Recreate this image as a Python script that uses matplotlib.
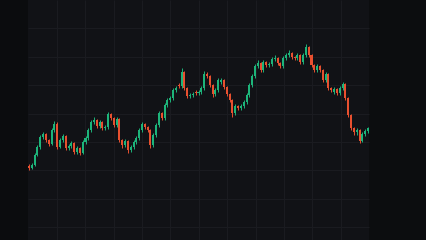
import matplotlib
matplotlib.use("Agg")
import matplotlib.pyplot as plt
import numpy as np

# OHLC values (price units)
opens = [74, 72, 75, 85, 93, 103, 106, 100, 96, 110,
         116, 93, 100, 104, 92, 94, 97, 88, 92, 87,
         98, 102, 110, 118, 120, 114, 118, 112, 113, 126,
         122, 115, 121, 100, 95, 99, 90, 93, 98, 102,
         110, 116, 113, 110, 95, 105, 115, 127, 122, 135,
         140, 142, 150, 155, 154, 168, 152, 144, 145, 148,
         147, 148, 152, 166, 164, 155, 146, 150, 158, 160,
         153, 146, 140, 127, 134, 132, 134, 138, 145, 155,
         164, 174, 177, 170, 178, 175, 176, 181, 182, 177,
         174, 182, 185, 187, 183, 182, 185, 178, 185, 193,
         185, 175, 170, 174, 170, 160, 166, 152, 148, 151,
         147, 152, 156, 142, 125, 112, 108, 110, 99, 106,
         109]
closes = [72, 75, 85, 93, 103, 106, 100, 96, 110, 116,
          93, 100, 104, 92, 94, 97, 88, 92, 87, 98,
          102, 110, 118, 120, 114, 118, 112, 113, 126, 122,
          115, 121, 100, 95, 99, 90, 93, 98, 102, 110,
          116, 113, 110, 95, 105, 115, 127, 122, 135, 140,
          142, 150, 152, 154, 168, 152, 144, 145, 146, 147,
          148, 152, 166, 164, 155, 146, 150, 160, 160, 153,
          146, 140, 127, 134, 132, 134, 138, 145, 155, 164,
          174, 177, 170, 178, 175, 176, 181, 182, 177, 174,
          182, 185, 187, 183, 182, 185, 178, 185, 193, 185,
          175, 170, 174, 170, 160, 166, 152, 150, 151, 147,
          152, 156, 142, 125, 112, 108, 110, 99, 106, 109,
          112]
highs = [76, 77, 87, 95, 105, 108, 107, 101, 112, 119,
         118, 102, 106, 105, 96, 99, 98, 94, 93, 100,
         104, 112, 120, 123, 121, 120, 119, 115, 128, 127,
         123, 123, 122, 101, 101, 100, 95, 100, 104, 112,
         118, 117, 114, 111, 107, 117, 129, 128, 137, 142,
         144, 152, 154, 157, 172, 169, 153, 147, 148, 150,
         150, 154, 169, 168, 165, 156, 152, 162, 162, 161,
         154, 147, 141, 136, 135, 136, 140, 147, 157, 166,
         176, 180, 178, 180, 179, 178, 183, 185, 183, 178,
         184, 187, 190, 188, 184, 187, 186, 187, 196, 194,
         186, 176, 176, 175, 171, 168, 167, 153, 153, 152,
         154, 158, 157, 143, 126, 113, 112, 111, 108, 111,
         113]
lows = [70, 71, 74, 84, 91, 101, 98, 94, 95, 108,
        91, 92, 98, 90, 90, 92, 86, 86, 85, 86,
        96, 100, 108, 116, 112, 112, 110, 110, 111, 120,
        113, 113, 98, 92, 93, 87, 88, 91, 96, 100,
        108, 111, 108, 92, 93, 103, 113, 120, 120, 133,
        138, 140, 148, 152, 152, 150, 142, 142, 143, 145,
        145, 146, 150, 162, 153, 143, 144, 148, 156, 151,
        144, 138, 123, 125, 130, 130, 132, 136, 143, 153,
        162, 172, 168, 168, 173, 173, 174, 179, 175, 172,
        172, 180, 183, 181, 180, 180, 176, 176, 183, 183,
        173, 168, 168, 168, 158, 158, 150, 148, 146, 145,
        145, 150, 140, 123, 110, 105, 105, 97, 98, 104,
        107]

UP = "#1db47a"
DOWN = "#e8502f"

W, H = 426, 240
fig = plt.figure(figsize=(W / 100, H / 100), dpi=100, facecolor="#0b0c0e")
ax = fig.add_axes([0, 0, 1, 1])
ax.set_facecolor("#0b0c0e")

step = 2.825
x0 = 29.0
def px(xpix):
    return (xpix - x0) / step

ax.set_xlim(px(0), px(W))
ax.set_ylim(0, H)
ax.axis("off")

# chart panel
left, right = px(W / 15), px(13 * W / 15)
ax.axvspan(left, right, color="#111216", zorder=0, lw=0)
ax.axvspan(right, px(W), color="#0c0d0f", zorder=0, lw=0)

grid = "#1a1b20"
g = W / 15
for k in range(2, 13):
    ax.vlines(px(k * g), 0, H, color=grid, lw=0.8, zorder=1)
for k in range(1, 9):
    ax.hlines(H - k * g, left, right, color=grid, lw=0.8, zorder=1)

n = len(closes)
idx = np.arange(n)
o = np.array(opens, float)
c = np.array(closes, float)
h = np.array(highs, float)
l = np.array(lows, float)
cols = [UP if cc >= oo else DOWN for oo, cc in zip(o, c)]
ax.vlines(idx, l, h, colors=cols, lw=0.7, zorder=2)
body = np.maximum(np.abs(c - o), 1.2)
ax.bar(idx, body, bottom=np.minimum(o, c), width=0.72, color=cols, lw=0, zorder=3)

fig.savefig("out.png", dpi=100, facecolor=fig.get_facecolor())
